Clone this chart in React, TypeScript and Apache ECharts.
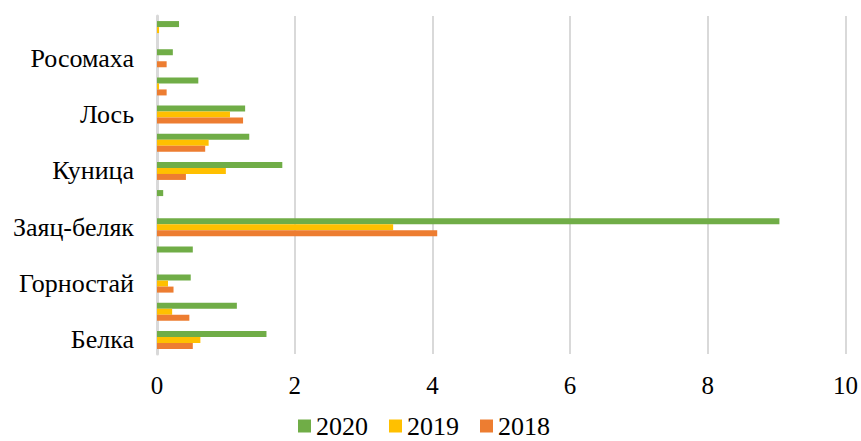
import React, { useEffect, useRef } from "react";
import * as echarts from "echarts";

const categories = [
  "Белка",
  "Волк",
  "Горностай",
  "Дикий северный олень",
  "Заяц-беляк",
  "Колонок",
  "Куница",
  "Лисица",
  "Лось",
  "Норка",
  "Росомаха",
  "Рысь",
];
const values2020 = [1.59, 1.16, 0.49, 0.52, 9.04, 0.09, 1.82, 1.34, 1.28, 0.6, 0.23, 0.32];
const values2019 = [0.63, 0.22, 0.16, 0, 3.43, 0, 1.0, 0.75, 1.06, 0.03, 0, 0.03];
const values2018 = [0.52, 0.47, 0.24, 0, 4.07, 0, 0.42, 0.7, 1.25, 0.14, 0.14, 0];
const xTicks = [0, 2, 4, 6, 8, 10];

const FONT = "Liberation Serif, Times New Roman, DejaVu Serif, serif";

export default function App() {
  const ref = useRef<HTMLDivElement>(null);
  useEffect(() => {
    if (!ref.current) return;
    const chart = echarts.init(ref.current, undefined, { renderer: "svg" });
    chart.setOption({
      animation: false,
      backgroundColor: "#ffffff",
      textStyle: { fontFamily: FONT },
      grid: { left: 157, right: 15, top: 16, bottom: 87, containLabel: false },
      legend: {
        data: ["2020", "2019", "2018"],
        top: 413,
        left: 298,
        padding: 0,
        itemWidth: 13,
        itemHeight: 13,
        itemGap: 21,
        icon: "rect",
        textStyle: { fontFamily: FONT, fontSize: 26, lineHeight: 26, color: "#000", padding: [0, 0, 0, 0] },
      },
      xAxis: {
        type: "value",
        min: xTicks[0],
        max: xTicks[xTicks.length - 1],
        interval: 2,
        axisLine: { show: false },
        axisTick: { show: false },
        splitLine: { show: true, lineStyle: { color: "#D9D9D9", width: 2 } },
        axisLabel: { fontFamily: FONT, fontSize: 25, color: "#000", margin: 19 },
      },
      yAxis: {
        type: "category",
        data: categories,
        axisTick: { show: false },
        axisLine: { show: true, lineStyle: { color: "#D9D9D9", width: 3 } },
        axisLabel: { interval: 1, fontFamily: FONT, fontSize: 26, color: "#000", margin: 23 },
      },
      series: [
        { name: "2020", type: "bar", data: values2020, itemStyle: { color: "#70AD47" }, barGap: "0%", barCategoryGap: "36%" },
        { name: "2019", type: "bar", data: values2019, itemStyle: { color: "#FFC000" }, barGap: "0%", barCategoryGap: "36%" },
        { name: "2018", type: "bar", data: values2018, itemStyle: { color: "#ED7D31" }, barGap: "0%", barCategoryGap: "36%" },
      ],
    });
    return () => chart.dispose();
  }, []);
  return <div ref={ref} style={{ width: 861, height: 441, position: "absolute", left: 0, top: 0 }} />;
}
